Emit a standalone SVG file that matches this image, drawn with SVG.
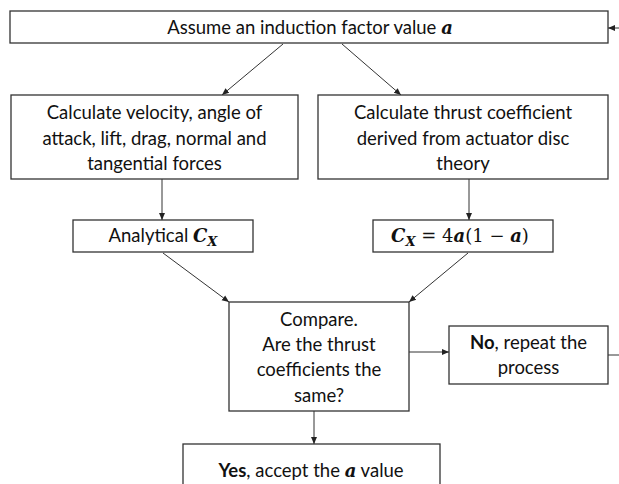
<svg xmlns="http://www.w3.org/2000/svg" width="619" height="484" viewBox="0 0 619 484">
<style>
.box{fill:#fff;stroke:#333;stroke-width:1.3}
.t{font-family:Lato,"Open Sans","Liberation Sans",sans-serif;font-size:18.5px;fill:#111;text-anchor:middle}
.m{font-family:"DejaVu Serif","Liberation Serif",serif;font-weight:bold;font-style:italic;font-size:18px}
.r{font-family:"DejaVu Serif","Liberation Serif",serif;font-weight:normal;font-style:normal;font-size:18px}
.b{font-weight:bold}
.e{fill:none;stroke:#333;stroke-width:1}
</style>
<defs>
<marker id="ah" markerWidth="8" markerHeight="8" refX="7" refY="4" orient="auto" markerUnits="userSpaceOnUse">
<path d="M0,1 L7,4 L0,7 Z" fill="#222"/>
</marker>
</defs>
<rect width="619" height="484" fill="#fff"/>
<g id="connectors">
<line class="e" x1="283" y1="44" x2="222" y2="95" marker-end="url(#ah)"/>
<line class="e" x1="342" y1="44" x2="401" y2="95" marker-end="url(#ah)"/>
<line class="e" x1="162" y1="179" x2="162" y2="220" marker-end="url(#ah)"/>
<line class="e" x1="469" y1="179" x2="469" y2="220" marker-end="url(#ah)"/>
<line class="e" x1="163" y1="253" x2="229" y2="302" marker-end="url(#ah)"/>
<line class="e" x1="468" y1="253" x2="409" y2="302" marker-end="url(#ah)"/>
<line class="e" x1="409" y1="352" x2="449" y2="352" marker-end="url(#ah)"/>
<line class="e" x1="314" y1="411" x2="314" y2="444" marker-end="url(#ah)"/>
<line class="e" x1="608" y1="355" x2="619" y2="355"/>
<line class="e" x1="619" y1="28" x2="608" y2="28" marker-end="url(#ah)"/>
</g>
<g id="assume">
<rect class="box" x="10" y="11" width="598" height="32"/>
<text class="t" x="310" y="34">Assume an induction factor value <tspan class="m">a</tspan></text>
</g>
<g id="calc-velocity">
<rect class="box" x="11" y="95" width="287" height="84"/>
<text class="t" x="154.5" y="119">Calculate velocity, angle of</text>
<text class="t" x="154.5" y="145">attack, lift, drag, normal and</text>
<text class="t" x="154.5" y="170">tangential forces</text>
</g>
<g id="calc-thrust">
<rect class="box" x="318" y="95" width="290" height="84"/>
<text class="t" x="463" y="119">Calculate thrust coefficient</text>
<text class="t" x="463" y="145">derived from actuator disc</text>
<text class="t" x="463" y="170">theory</text>
</g>
<g id="analytical">
<rect class="box" x="73" y="220" width="180" height="32"/>
<text class="t" x="163" y="242">Analytical <tspan class="m">C</tspan><tspan class="m" style="font-size:13px" dy="4">X</tspan></text>
</g>
<g id="formula">
<rect class="box" x="373" y="220" width="180" height="32"/>
<text class="t" x="460" y="242"><tspan class="m">C</tspan><tspan class="m" style="font-size:13px" dy="4">X</tspan><tspan class="r" dy="-4"> = 4</tspan><tspan class="m">a</tspan><tspan class="r">(1 − </tspan><tspan class="m">a</tspan><tspan class="r">)</tspan></text>
</g>
<g id="compare">
<rect class="box" x="229" y="302" width="180" height="109"/>
<text class="t" x="319" y="326">Compare.</text>
<text class="t" x="319" y="351">Are the thrust</text>
<text class="t" x="319" y="376">coefficients the</text>
<text class="t" x="319" y="402">same?</text>
</g>
<g id="no">
<rect class="box" x="449" y="326" width="159" height="58"/>
<text class="t" x="528.5" y="349"><tspan class="b">No</tspan>, repeat the</text>
<text class="t" x="528.5" y="374">process</text>
</g>
<g id="yes">
<rect class="box" x="183" y="444" width="257" height="50"/>
<text class="t" x="311" y="477"><tspan class="b">Yes</tspan>, accept the <tspan class="m">a</tspan> value</text>
</g>
</svg>
